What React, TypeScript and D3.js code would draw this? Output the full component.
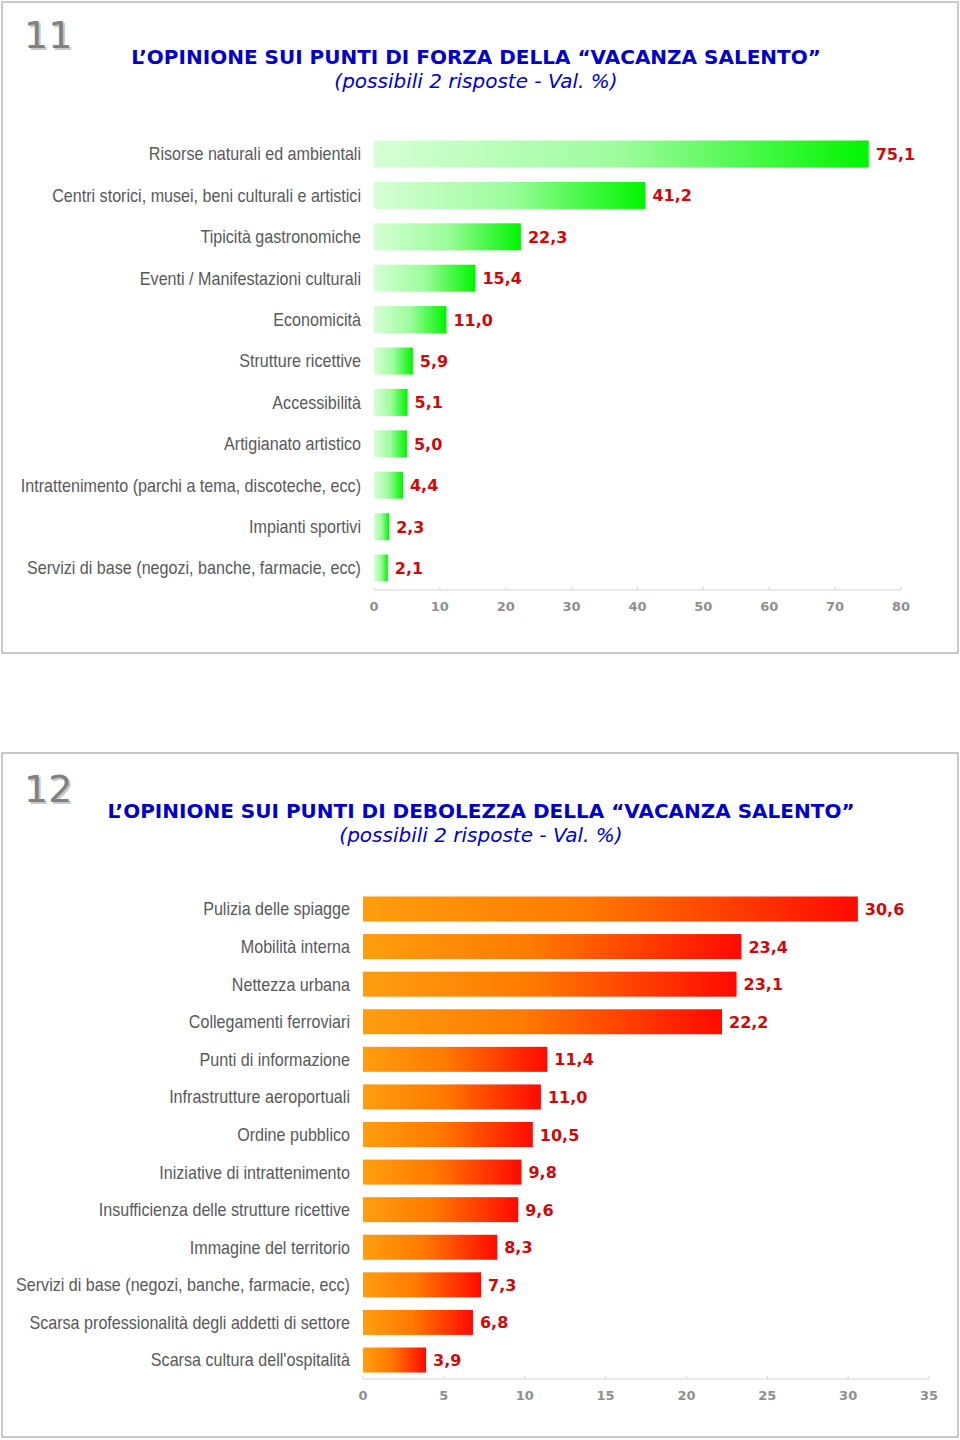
import React from "react";
import * as d3 from "d3";

const strengthCats = [
  "Risorse naturali ed ambientali",
  "Centri storici, musei, beni culturali e artistici",
  "Tipicità gastronomiche",
  "Eventi / Manifestazioni culturali",
  "Economicità",
  "Strutture ricettive",
  "Accessibilità",
  "Artigianato artistico",
  "Intrattenimento (parchi a tema, discoteche, ecc)",
  "Impianti sportivi",
  "Servizi di base (negozi, banche, farmacie, ecc)",
];
const strengthVals = [75.1, 41.2, 22.3, 15.4, 11.0, 5.9, 5.1, 5.0, 4.4, 2.3, 2.1];
const strengthTicks = [0, 10, 20, 30, 40, 50, 60, 70, 80];

const weakCats = [
  "Pulizia delle spiagge",
  "Mobilità interna",
  "Nettezza urbana",
  "Collegamenti ferroviari",
  "Punti di informazione",
  "Infrastrutture aeroportuali",
  "Ordine pubblico",
  "Iniziative di intrattenimento",
  "Insufficienza delle strutture ricettive",
  "Immagine del territorio",
  "Servizi di base (negozi, banche, farmacie, ecc)",
  "Scarsa professionalità degli addetti di settore",
  "Scarsa cultura dell'ospitalità",
];
const weakVals = [30.6, 23.4, 23.1, 22.2, 11.4, 11.0, 10.5, 9.8, 9.6, 8.3, 7.3, 6.8, 3.9];
const weakTicks = [0, 5, 10, 15, 20, 25, 30, 35];

const fmt = (v: number) => v.toFixed(1).replace(".", ",");

const LABEL_FONT = "'Liberation Sans', Arial, sans-serif";
const VERDANA = "'DejaVu Sans', Verdana, sans-serif";

type ChartProps = {
  cats: string[];
  vals: number[];
  ticks: number[];
  x0: number;
  x1: number;
  yTop: number;
  yBottom: number;
  barH: number;
  axisY: number;
  gradId: string;
};

function BarChart({ cats, vals, ticks, x0, x1, yTop, yBottom, barH, axisY, gradId }: ChartProps) {
  const x = d3.scaleLinear().domain([0, ticks[ticks.length - 1]]).range([x0, x1]);
  const y = d3.scalePoint<string>().domain(cats).range([yTop, yBottom]);
  return (
    <g>
      {cats.map((c, i) => {
        const cy = y(c)!;
        const w = x(vals[i]) - x(0);
        return (
          <g key={c}>
            <text
              transform={`translate(${x0 - 13},${cy}) scale(0.895,1)`}
              dy="0.36em"
              textAnchor="end"
              fontFamily={LABEL_FONT}
              fontSize={18}
              fill="#595959"
            >
              {c}
            </text>
            <rect x={x(0)} y={cy - barH / 2} width={w} height={barH} fill={`url(#${gradId})`} />
            <text x={x(vals[i]) + 7} y={cy} dy="0.38em" fontFamily={VERDANA} fontWeight="bold" fontSize={16} fill="#cc0a0a">
              {fmt(vals[i])}
            </text>
          </g>
        );
      })}
      <line x1={x0} x2={x1} y1={axisY} y2={axisY} stroke="#d4d4d4" strokeWidth={1} />
      {ticks.map((t) => (
        <g key={t}>
          <line x1={x(t)} x2={x(t)} y1={axisY - 3} y2={axisY} stroke="#d4d4d4" />
          <text x={x(t)} y={axisY + 16} dy="0.35em" textAnchor="middle" fontFamily={VERDANA} fontWeight="bold" fontSize={13} fill="#8f8f8f">
            {t}
          </text>
        </g>
      ))}
    </g>
  );
}

function Header({ num, title, cx, yNum, yTitle }: { num: string; title: string; cx: number; yNum: number; yTitle: number }) {
  return (
    <g>
      <text x={26} y={yNum + 2} fontFamily={VERDANA} fontSize={38} fill="#c8c8c8">{num}</text>
      <text x={24} y={yNum} fontFamily={VERDANA} fontSize={38} fill="#808080">{num}</text>
      <text x={cx} y={yTitle} textAnchor="middle" fontFamily={VERDANA} fontWeight="bold" fontSize={20} fill="#0000cc">
        {title}
      </text>
      <text x={cx} y={yTitle + 24} textAnchor="middle" fontFamily={VERDANA} fontStyle="italic" fontSize={20} fill="#0000cc">
        (possibili 2 risposte - Val. %)
      </text>
    </g>
  );
}

export default function App() {
  return (
    <svg width={960} height={1440} style={{ position: "absolute", left: 0, top: 0, background: "#fff" }}>
      <defs>
        <linearGradient id="gGreen" x1="0" x2="1" y1="0" y2="0">
          <stop offset="0" stopColor="#d6ffd6" />
          <stop offset="0.5" stopColor="#9dfc9d" />
          <stop offset="1" stopColor="#00f500" />
        </linearGradient>
        <linearGradient id="gRed" x1="0" x2="1" y1="0" y2="0">
          <stop offset="0" stopColor="#ff9e10" />
          <stop offset="0.45" stopColor="#ff7a00" />
          <stop offset="1" stopColor="#ff0a00" />
        </linearGradient>
      </defs>
      <rect x={2} y={2} width={956} height={651} fill="none" stroke="#b8b8b8" strokeWidth={1.5} />
      <rect x={2} y={753} width={956} height={684} fill="none" stroke="#b8b8b8" strokeWidth={1.5} />

      <Header num="11" title="L’OPINIONE SUI PUNTI DI FORZA DELLA “VACANZA SALENTO”" cx={476} yNum={48} yTitle={64} />
      <BarChart
        cats={strengthCats}
        vals={strengthVals}
        ticks={strengthTicks}
        x0={374}
        x1={901}
        yTop={154}
        yBottom={568}
        barH={27}
        axisY={590}
        gradId="gGreen"
      />

      <Header num="12" title="L’OPINIONE SUI PUNTI DI DEBOLEZZA DELLA “VACANZA SALENTO”" cx={481} yNum={802} yTitle={818} />
      <BarChart
        cats={weakCats}
        vals={weakVals}
        ticks={weakTicks}
        x0={363}
        x1={929}
        yTop={909}
        yBottom={1360}
        barH={25}
        axisY={1379}
        gradId="gRed"
      />
    </svg>
  );
}
